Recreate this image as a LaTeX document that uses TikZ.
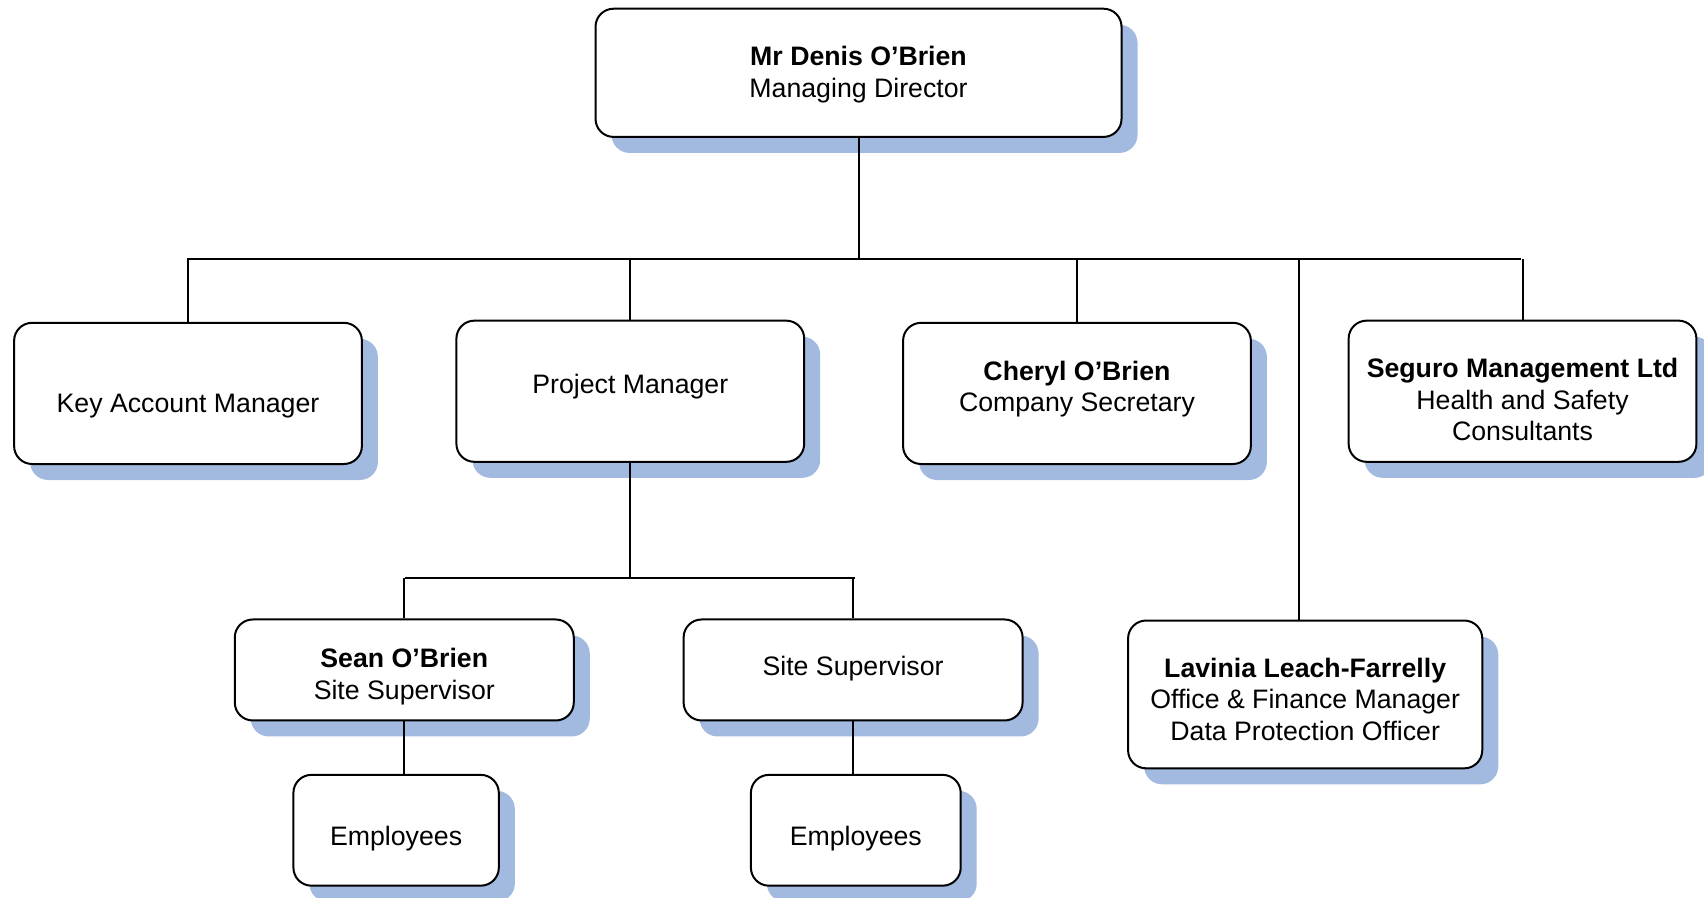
\documentclass[tikz,border=0pt]{standalone}
\usepackage{fontspec}
\setmainfont{Liberation Sans}
\usetikzlibrary{shadows}
\definecolor{shadowblue}{RGB}{162,185,224}
\begin{document}
\begin{tikzpicture}[x=0.5434pt,y=-0.5434pt,
  post/.style={draw=black,line width=1pt,fill=white,rounded corners=9pt,inner sep=0pt,
    drop shadow={shadow xshift=8pt,shadow yshift=-8pt,fill=shadowblue,opacity=1}},
  tag/.style={align=center,inner sep=0pt,font=\fontsize{13.35}{15.8}\selectfont},
  wide/.style={post,minimum width=173.9pt,minimum height=70.6pt},
  mid/.style={post,minimum width=169.5pt,minimum height=50.5pt},
  link/.style={line width=1pt}]
\useasboundingbox (0,0) rectangle (1568,826);
\node[post,minimum width=263pt,minimum height=64.1pt,
  label={[tag,name=mdtext,yshift=-0.8pt]center:\textbf{Mr Denis O’Brien}\\Managing Director}] (md) at (790,67) {};
\node[wide,label={[tag,name=kamtext,yshift=-6.5pt]center:Key Account Manager}] (kam) at (173,362) {};
\node[wide,label={[tag,name=pmtext,yshift=2.2pt]center:Project Manager}] (pm) at (580,360) {};
\node[wide,label={[tag,name=cstext,yshift=2.2pt]center:\textbf{Cheryl O’Brien}\\Company Secretary}] (cs) at (991,362) {};
\node[wide,label={[tag,name=segtext,yshift=-4.3pt]center:\textbf{Seguro Management Ltd}\\Health and Safety\\Consultants}] (seg) at (1401,360) {};
\node[post,minimum width=177.1pt,minimum height=73.9pt,
  label={[tag,name=lvftext,yshift=-2.5pt]center:\textbf{Lavinia Leach-Farrelly}\\Office \& Finance Manager\\Data Protection Officer}] (lvf) at (1201,639) {};
\node[mid,label={[tag,name=ss1text,yshift=-3.3pt]center:\textbf{Sean O’Brien}\\Site Supervisor}] (ss1) at (372,616.5) {};
\node[mid,label={[tag,name=ss2text,yshift=0.5pt]center:Site Supervisor}] (ss2) at (785,616.5) {};
\node[post,minimum width=102.7pt,minimum height=55.4pt,
  label={[tag,name=emp1text,yshift=-4.3pt]center:Employees}] (emp1) at (364.5,764) {};
\node[post,minimum width=104.9pt,minimum height=55.4pt,
  label={[tag,name=emp2text,yshift=-4.3pt]center:Employees}] (emp2) at (787.5,764) {};
\coordinate (bus) at (172,238);
\coordinate (busend) at (1400,238);
\coordinate (bus2) at (373,532);
\coordinate (bus2end) at (787,532);
\coordinate (lvftop) at ([xshift=-3.3pt]lvf.north);
\draw[link] (md.south) -- (md.south |- bus);
\draw[link] (bus) -- (busend);
\foreach \n in {kam,pm,cs,seg}
  \draw[link] (\n.north) -- (\n.north |- bus);
\draw[link] (lvftop) -- (lvftop |- bus);
\draw[link] (pm.south) -- (pm.south |- bus2);
\draw[link] (bus2) -- (bus2end);
\foreach \n in {ss1,ss2}
  \draw[link] (\n.north) -- (\n.north |- bus2);
\draw[link] (ss1.south) -- (ss1.south |- emp1.north);
\draw[link] (ss2.south) -- (ss2.south |- emp2.north);
\end{tikzpicture}
\end{document}
